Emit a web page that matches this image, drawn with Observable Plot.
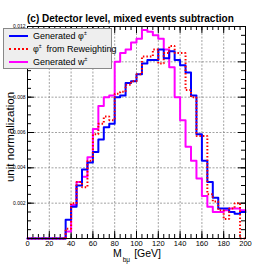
<!DOCTYPE html>
<html><head><meta charset="utf-8">
<script src="https://cdn.jsdelivr.net/npm/d3@7"></script>
<script src="https://cdn.jsdelivr.net/npm/@observablehq/plot@0.6"></script>
<style>
html,body{margin:0;padding:0;background:#fff;}
#wrap{position:relative;width:273px;height:265px;overflow:hidden;font-family:"Liberation Sans",Arial,sans-serif;color:#000;}
#wrap svg{position:absolute;left:0;top:0;}
.title{position:absolute;left:27px;top:13px;font-weight:bold;font-size:10px;line-height:12px;white-space:nowrap;}
.legend{position:absolute;left:3px;top:28px;width:107px;height:39px;background:#eeeeee;border:1px solid #888;box-sizing:content-box;}
.row{position:absolute;left:0;height:10px;width:107px;font-size:9px;line-height:10px;white-space:nowrap;}
.sw{position:absolute;left:5px;top:4px;width:19px;height:0;}
.lt{position:absolute;left:29px;top:0;}
.sup{font-size:5px;vertical-align:4px;line-height:5px;}
.ylab{position:absolute;left:10px;top:137px;font-size:11.5px;white-space:nowrap;transform:translate(-50%,-50%) rotate(-90deg);}
.xlab{position:absolute;left:113px;top:248.5px;font-size:10.5px;line-height:9px;white-space:nowrap;}
.sub{font-size:6.5px;position:relative;top:5px;margin-left:1px;}
</style></head>
<body>
<div id="wrap">
  <div class="title">(c) Detector level, mixed events subtraction</div>
  <div class="ylab">unit normalization</div>
  <div class="xlab">M<span class="sub">bμ</span><span style="margin-left:4px">[GeV]</span></div>
</div>
<script>
// Bin lower edges (GeV), bin width 5
const binLow = [0,5,10,15,20,25,30,35,40,45,50,55,60,65,70,75,80,85,90,95,100,105,110,115,120,125,130,135,140,145,150,155,160,165,170,175,180,185,190,195];
const xEnd = 200;
// Generated phi±
const generatedPhi = [0,0,0,0,0,0,0,0.00106,0.0018,0.0030,0.0039,0.0043,0.0049,0.0056,0.0063,0.0065,0.0080,0.0081,0.0088,0.0089,0.0093,0.0099,0.0101,0.0101,0.0107,0.0102,0.0106,0.0101,0.0098,0.0094,0.0081,0.0059,0.0044,0.0032,0.0023,0.0017,0.0017,0.0015,0.0014,0.0015];
// phi± from Reweighting
const reweightedPhi = [0,0,0,0,0,0,0,0.00055,0.0020,0.0032,0.0029,0.0044,0.0059,0.0065,0.0069,0.0067,0.0082,0.0083,0.0087,0.0089,0.0093,0.0103,0.0103,0.0107,0.0099,0.0105,0.0109,0.0105,0.0105,0.0084,0.0080,0.0058,0.0058,0.0025,0.0021,0.0016,0.0011,0.0017,0.0020,0];
// Generated w±
const generatedW = [0,0,0,0,0,0,0,0.0004,0.0019,0.0032,0.0035,0.0046,0.0062,0.0075,0.0080,0.0081,0.0100,0.0105,0.0107,0.0111,0.0113,0.0118,0.0117,0.0115,0.0113,0.0107,0.0097,0.0080,0.0067,0.0052,0.0044,0.0034,0.0024,0.0018,0.0015,0.0015,0.0016,0.0017,0.0017,0.0016];

const xTickLabels = [0,20,40,60,80,100,120,140,160,180,200];
const yTickLabels = [0.002,0.004,0.006,0.008,0.010,0.012];
const xMinorTicks = d3.range(0, 201, 5);
const yMinorTicks = d3.range(0, 0.01201, 0.0005);

function histRows(vals){
  const rows = binLow.map((x,i)=>({x, v: vals[i]}));
  rows.push({x: xEnd, v: vals[vals.length-1]});
  return rows;
}

const W = 273, H = 265, mL = 27, mR = 28, mT = 26, mB = 27;
const fW = W - mL - mR, fH = H - mT - mB;
const gridStyle = {stroke:"#8a8a8a", strokeOpacity:1, strokeWidth:0.8, strokeDasharray:"2,1.5"};

const chart = Plot.plot({
  width: W, height: H,
  marginLeft: mL, marginRight: mR, marginTop: mT, marginBottom: mB,
  style: {fontFamily: "'Liberation Sans', Arial, sans-serif", background: "transparent", color:"#000"},
  x: {domain: [0, 200], axis: null},
  y: {domain: [0, 0.012], axis: null},
  marks: [
    Plot.gridX(xTickLabels, gridStyle),
    Plot.gridY(yTickLabels, gridStyle),
    Plot.tickX(xMinorTicks, {x: d=>d, insetTop: fH - 4, stroke:"#000"}),
    Plot.tickX(xMinorTicks, {x: d=>d, insetBottom: fH - 4, stroke:"#000"}),
    Plot.tickX(xTickLabels, {x: d=>d, insetTop: fH - 7, stroke:"#000"}),
    Plot.tickX(xTickLabels, {x: d=>d, insetBottom: fH - 7, stroke:"#000"}),
    Plot.tickY(yMinorTicks, {y: d=>d, insetRight: fW - 4, stroke:"#000"}),
    Plot.tickY(yMinorTicks, {y: d=>d, insetLeft: fW - 4, stroke:"#000"}),
    Plot.tickY(yTickLabels, {y: d=>d, insetRight: fW - 7, stroke:"#000"}),
    Plot.tickY(yTickLabels, {y: d=>d, insetLeft: fW - 7, stroke:"#000"}),
    Plot.axisX({ticks: xTickLabels, tickSize: 0, tickPadding: 2, fontSize: 7.5, label: null}),
    Plot.axisY({ticks: yTickLabels, tickSize: 0, tickPadding: 2, fontSize: 5, tickFormat: d3.format(".3f"), label: null}),
    Plot.line(histRows(generatedW), {x:"x", y:"v", curve:"step-after", stroke:"#ff00ff", strokeWidth:2}),
    Plot.line(histRows(generatedPhi), {x:"x", y:"v", curve:"step-after", stroke:"#0000ff", strokeWidth:2}),
    Plot.line(histRows(reweightedPhi), {x:"x", y:"v", curve:"step-after", stroke:"#ff0000", strokeWidth:2, strokeDasharray:"1.5,2", strokeLinecap:"butt", strokeLinejoin:"miter"}),
    Plot.frame({stroke:"#000", strokeWidth:1})
  ]
});
const wrap = document.getElementById("wrap");
wrap.insertBefore(chart, wrap.firstChild);

const legend = document.createElement("div");
legend.className = "legend";
legend.innerHTML = `
 <div class="row" style="top:2px"><span class="sw" style="border-top:2px solid #0000ff"></span><span class="lt">Generated φ<span class="sup">±</span></span></div>
 <div class="row" style="top:15px"><span class="sw" style="border-top:2px dotted #ff0000"></span><span class="lt">φ<span class="sup">±</span> &nbsp;from Reweighting</span></div>
 <div class="row" style="top:28px"><span class="sw" style="border-top:2px solid #ff00ff"></span><span class="lt">Generated w<span class="sup">±</span></span></div>`;
wrap.appendChild(legend);
</script>
</body></html>
